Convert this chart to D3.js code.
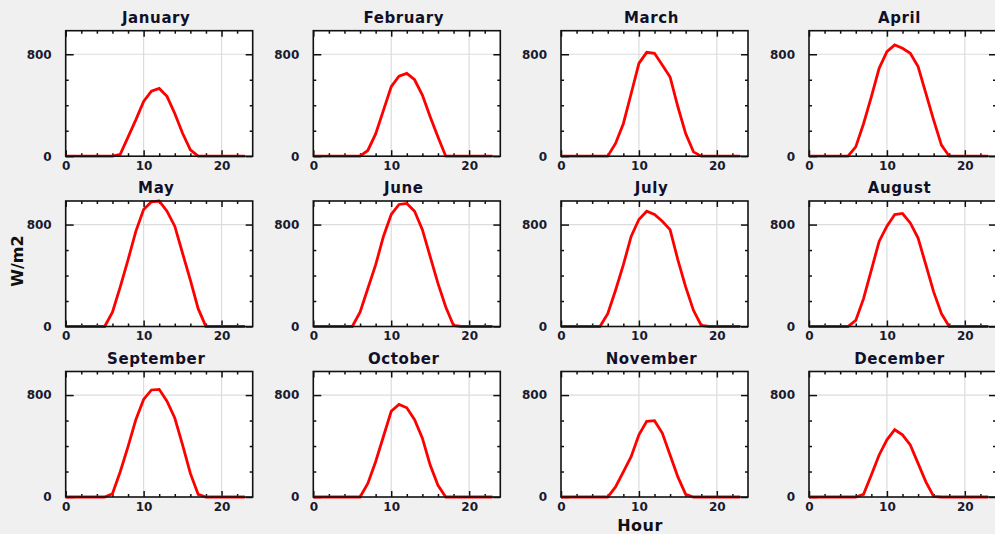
<!DOCTYPE html>
<html><head><meta charset="utf-8">
<script src="https://cdn.jsdelivr.net/npm/d3@7"></script>
<style>
html,body{margin:0;padding:0;background:#f0f0f0;}
svg{display:block;}
text{font-family:"DejaVu Sans",Verdana,sans-serif;}
</style></head>
<body>
<svg id="chart" width="995" height="534"></svg>
<script>
const monthNames = ["January","February","March","April","May","June","July","August","September","October","November","December"];
const hours = [0,1,2,3,4,5,6,7,8,9,10,11,12,13,14,15,16,17,18,19,20,21,22,23];
const january   = [0,0,0,0,0,0,0,15,150,285,430,510,532,470,335,180,50,0,0,0,0,0,0,0];
const february  = [0,0,0,0,0,0,0,45,175,360,545,628,650,600,480,310,150,0,0,0,0,0,0,0];
const march     = [0,0,0,0,0,0,0,100,255,490,728,815,808,716,622,388,178,34,0,0,0,0,0,0];
const april     = [0,0,0,0,0,0,73,255,465,690,820,873,847,808,703,493,283,87,0,0,0,0,0,0];
const may       = [0,0,0,0,0,0,113,311,523,747,918,979,985,905,787,575,364,140,0,0,0,0,0,0];
const june      = [0,0,0,0,0,0,113,298,483,707,879,958,966,905,760,549,338,153,8,0,0,0,0,0];
const july      = [0,0,0,0,0,0,100,285,483,707,840,905,879,826,760,523,311,127,8,0,0,0,0,0];
const august    = [0,0,0,0,0,0,48,219,443,668,787,879,887,813,694,483,272,100,0,0,0,0,0,0];
const september = [0,0,0,0,0,0,26,198,396,607,766,840,845,752,620,409,185,21,0,0,0,0,0,0];
const october   = [0,0,0,0,0,0,0,106,277,475,673,726,700,607,462,251,92,0,0,0,0,0,0,0];
const november  = [0,0,0,0,0,0,0,79,198,317,488,594,599,502,330,158,21,0,0,0,0,0,0,0];
const december  = [0,0,0,0,0,0,0,21,172,330,449,528,488,409,264,119,5,0,0,0,0,0,0,0];
const seriesList = [january,february,march,april,may,june,july,august,september,october,november,december];
const xMajorTicks = [0,10,20];
const xMinorTicks = [2,4,6,8,12,14,16,18,22];
const yMajorTicks = [0,800];
const yMinorTicks = [200,400,600];
const xDomain = [0,24];
const yDomain = [0,985];
const xLabel = "Hour";
const yLabel = "W/m2";

const svg = d3.select("#chart");
svg.append("rect").attr("width",995).attr("height",534).attr("fill","#f0f0f0");

const colLeft = [65.7, 313.3, 561, 809];
const rowTop = [30.7, 201, 371.5];
const pw = 187, ph = 125.5;

const x = d3.scaleLinear().domain(xDomain).range([0,pw]);
const y = d3.scaleLinear().domain(yDomain).range([ph,0]);

monthNames.forEach((name,i)=>{
  const c = i%4, r = Math.floor(i/4);
  const g = svg.append("g").attr("transform",`translate(${colLeft[c]},${rowTop[r]})`);
  g.append("rect").attr("width",pw).attr("height",ph).attr("fill","#fff");
  g.selectAll(".gx").data(xMajorTicks.filter(d=>d>0)).enter().append("line")
    .attr("x1",d=>x(d)).attr("x2",d=>x(d)).attr("y1",0).attr("y2",ph)
    .attr("stroke","#dcdcdc").attr("stroke-width",1.2);
  g.selectAll(".gy").data(yMajorTicks.filter(d=>d>0)).enter().append("line")
    .attr("y1",d=>y(d)).attr("y2",d=>y(d)).attr("x1",0).attr("x2",pw)
    .attr("stroke","#dcdcdc").attr("stroke-width",1.2);
  const axB = d3.axisBottom(x).tickValues(xMajorTicks).tickSize(-6).tickPadding(5).tickFormat(d3.format("d"));
  const axBm = d3.axisBottom(x).tickValues(xMinorTicks).tickSize(-3).tickFormat("");
  const axT = d3.axisTop(x).tickValues(xMajorTicks).tickSize(-6).tickFormat("");
  const axTm = d3.axisTop(x).tickValues(xMinorTicks).tickSize(-3).tickFormat("");
  const axL = d3.axisLeft(y).tickValues(yMajorTicks).tickSize(-8).tickPadding(14).tickFormat(d3.format("d"));
  const axLm = d3.axisLeft(y).tickValues(yMinorTicks).tickSize(-3).tickFormat("");
  const axR = d3.axisRight(y).tickValues(yMajorTicks).tickSize(-7).tickFormat("");
  const axRm = d3.axisRight(y).tickValues(yMinorTicks).tickSize(-3).tickFormat("");
  const addAx = (ax,tr)=>{
    const a = g.append("g").attr("transform",tr).call(ax);
    a.select(".domain").remove();
    a.selectAll("line").attr("stroke","#111").attr("stroke-width",1.5);
    a.selectAll("text").attr("fill","#1a1a2e").attr("font-size","12px").attr("font-weight","bold");
    return a;
  };
  addAx(axB,`translate(0,${ph})`);
  addAx(axBm,`translate(0,${ph})`);
  addAx(axT,"translate(0,0)");
  addAx(axTm,"translate(0,0)");
  addAx(axL,"translate(0,0)");
  addAx(axLm,"translate(0,0)");
  addAx(axR,`translate(${pw},0)`);
  addAx(axRm,`translate(${pw},0)`);
  const line = d3.line().x((d,j)=>x(hours[j])).y(d=>y(d));
  g.append("path").datum(seriesList[i]).attr("d",line)
    .attr("fill","none").attr("stroke","#ff0000").attr("stroke-width",2.8)
    .attr("stroke-linejoin","miter");
  g.append("rect").attr("width",pw).attr("height",ph).attr("fill","none")
    .attr("stroke","#111").attr("stroke-width",1.6);
  g.append("text").attr("x",pw/2 - 3).attr("y",-8).attr("text-anchor","middle")
    .attr("font-size","15px").attr("font-weight","bold").attr("letter-spacing","0.6px")
    .attr("fill","#10102a").text(name);
});

svg.append("text").attr("x",640).attr("y",531).attr("text-anchor","middle")
  .attr("font-size","16px").attr("font-weight","bold").attr("letter-spacing","0.5px")
  .attr("fill","#111").text(xLabel);
svg.append("text").attr("transform","translate(23,261) rotate(-90)").attr("text-anchor","middle")
  .attr("font-size","16px").attr("font-weight","bold").attr("fill","#111").text(yLabel);
</script>
</body></html>
